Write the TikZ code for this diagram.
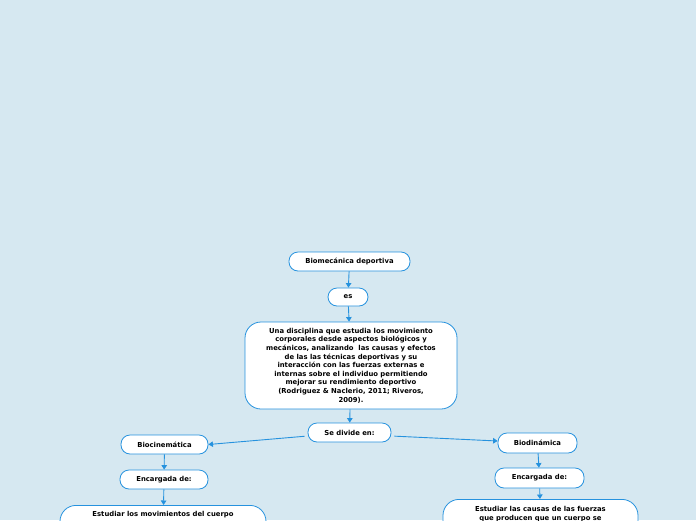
\documentclass[tikz,border=0pt]{standalone}
\usepackage{fontspec}
\setmainfont{DejaVu Sans}
\usetikzlibrary{arrows.meta}
\definecolor{bg}{RGB}{214,232,241}
\definecolor{bluec}{RGB}{38,146,222}
\newcommand{\lblfont}{\fontsize{6.85}{8.6}\selectfont\bfseries}
\tikzset{
  box/.style={draw=bluec, fill=white, rounded corners=9pt, line width=0.8pt,
    align=center, inner sep=0pt, font=\lblfont},
  bigbox/.style={box, rounded corners=16pt},
  conn/.style={draw=bluec, line width=0.9pt, -{Triangle[length=4.5pt,width=5.5pt]}}
}
\begin{document}
\begin{tikzpicture}[x=1pt,y=-1pt]
\useasboundingbox (0,0) rectangle (696,520);
\clip (0,0) rectangle (696,520);
\fill[bg] (0,0) rectangle (696,520);

\node[box, minimum width=121pt, minimum height=19pt] (bio) at (349.5,261.5) {Biomecánica deportiva};
\node[box, minimum width=40pt, minimum height=18pt] (es) at (348,297) {es};
\node[bigbox, minimum width=212pt, minimum height=87pt] (def) at (351,365.5)
 {Una disciplina que estudia los movimiento\\corporales desde aspectos biológicos y\\mecánicos, analizando\ \ las causas y efectos\\de las las técnicas deportivas y su\\interacción con las fuerzas externas e\\internas sobre el individuo permitiendo\\mejorar su rendimiento deportivo\\(Rodriguez \& Naclerio, 2011; Riveros,\\2009).};
\node[box, minimum width=83pt, minimum height=19pt] (div) at (349.5,432.5) {Se divide en:};

\node[box, minimum width=87pt, minimum height=19pt] (cin) at (164.5,444.5) {Biocinemática};
\node[box, minimum width=88pt, minimum height=19pt] (encl) at (164,479.5) {Encargada de:};
\node[bigbox, minimum width=206pt, minimum height=60pt, anchor=north] (estl) at (163,505) {};
\node[font=\lblfont, anchor=north, inner sep=0pt] (estlt) at (163,511.5) {Estudiar los movimientos del cuerpo};

\node[box, minimum width=79pt, minimum height=20pt] (din) at (537.5,443) {Biodinámica};
\node[box, minimum width=89pt, minimum height=20pt] (encr) at (539.5,478) {Encargada de:};
\node[bigbox, minimum width=195pt, minimum height=60pt, anchor=north] (estr) at (540.5,499) {};
\node[font=\lblfont, anchor=north, align=center, inner sep=0pt] (estrt) at (540.5,506) {Estudiar las causas de las fuerzas\\que producen que un cuerpo se};

\draw[conn] (bio) -- (es);
\draw[conn] (es) -- (def);
\draw[conn] (def) -- (div);
\draw[conn, shorten <=3pt] ([yshift=-3.5pt]div.west) -- (cin.east);
\draw[conn, shorten <=3pt] ([yshift=-3.5pt]div.east) -- ([yshift=2pt]din.west);
\draw[conn] (cin) -- (encl);
\draw[conn] (encl) -- (estl);
\draw[conn] (din) -- (encr);
\draw[conn] (encr) -- (estr);
\end{tikzpicture}
\end{document}
